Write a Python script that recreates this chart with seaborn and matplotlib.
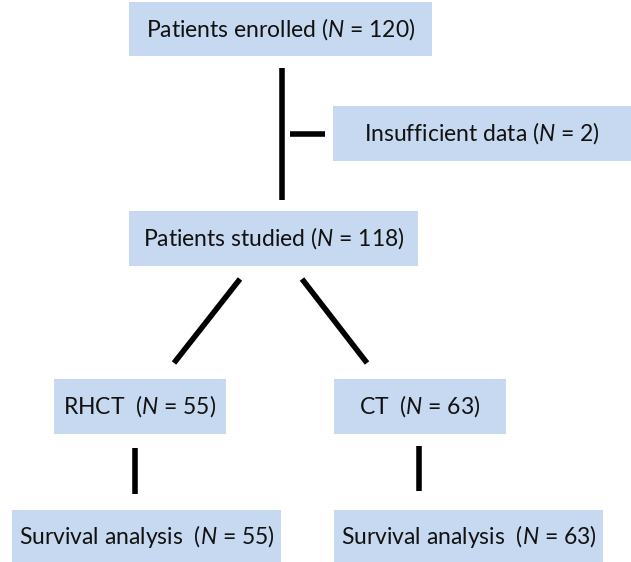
import matplotlib
matplotlib.use("Agg")
import matplotlib.pyplot as plt
import seaborn as sns
import pandas as pd
from matplotlib.patches import Rectangle

# flowchart content
stages = ["Patients enrolled", "Insufficient data", "Patients studied",
          "RHCT", "CT", "Survival analysis", "Survival analysis"]
counts = [120, 2, 118, 55, 63, 55, 63]
gaps = [" ", " ", " ", "  ", "  ", "  ", "  "]

# box layout in pixels: x0, y0, x1, y1
boxes = [(129, 2, 432, 56), (333, 106, 631, 161), (129, 211, 418, 266),
         (54, 379, 226, 434), (334, 379, 506, 434),
         (12, 510, 281, 562), (334, 510, 603, 562)]

# connector segments in pixels
segments = [((282, 68), (282, 200)), ((290, 134), (325, 134)),
            ((240, 279), (174, 363)), ((302, 279), (367, 363)),
            ((135, 448), (135, 494)), ((419, 446), (419, 491))]

sns.set_theme(style="white")
plt.rcParams["font.family"] = ["Lato", "DejaVu Sans"]
plt.rcParams["mathtext.fontset"] = "custom"
plt.rcParams["mathtext.rm"] = "Lato"
plt.rcParams["mathtext.it"] = "Lato:italic"

fig = plt.figure(figsize=(6.31, 5.62), dpi=100)
ax = fig.add_axes([0, 0, 1, 1])

for (x0, y0, x1, y1), name, n, gap in zip(boxes, stages, counts, gaps):
    ax.add_patch(Rectangle((x0, y0), x1 - x0, y1 - y0, facecolor="#c6d9f0",
                           edgecolor="none"))
    ax.text((x0 + x1) / 2, (y0 + y1) / 2, f"{name}{gap}($N$ = {n})",
            ha="center", va="center", fontsize=16.5, color="#111111")

rows = []
for i, (a, b) in enumerate(segments):
    rows.append({"seg": i, "x": a[0], "y": a[1]})
    rows.append({"seg": i, "x": b[0], "y": b[1]})
lines = pd.DataFrame(rows)
sns.lineplot(data=lines, x="x", y="y", units="seg", estimator=None, sort=False,
             color="black", linewidth=4, solid_capstyle="butt", ax=ax,
             legend=False)
ax.set_xlim(0, 631)
ax.set_ylim(562, 0)
ax.axis("off")

fig.savefig("out.png", dpi=100)
